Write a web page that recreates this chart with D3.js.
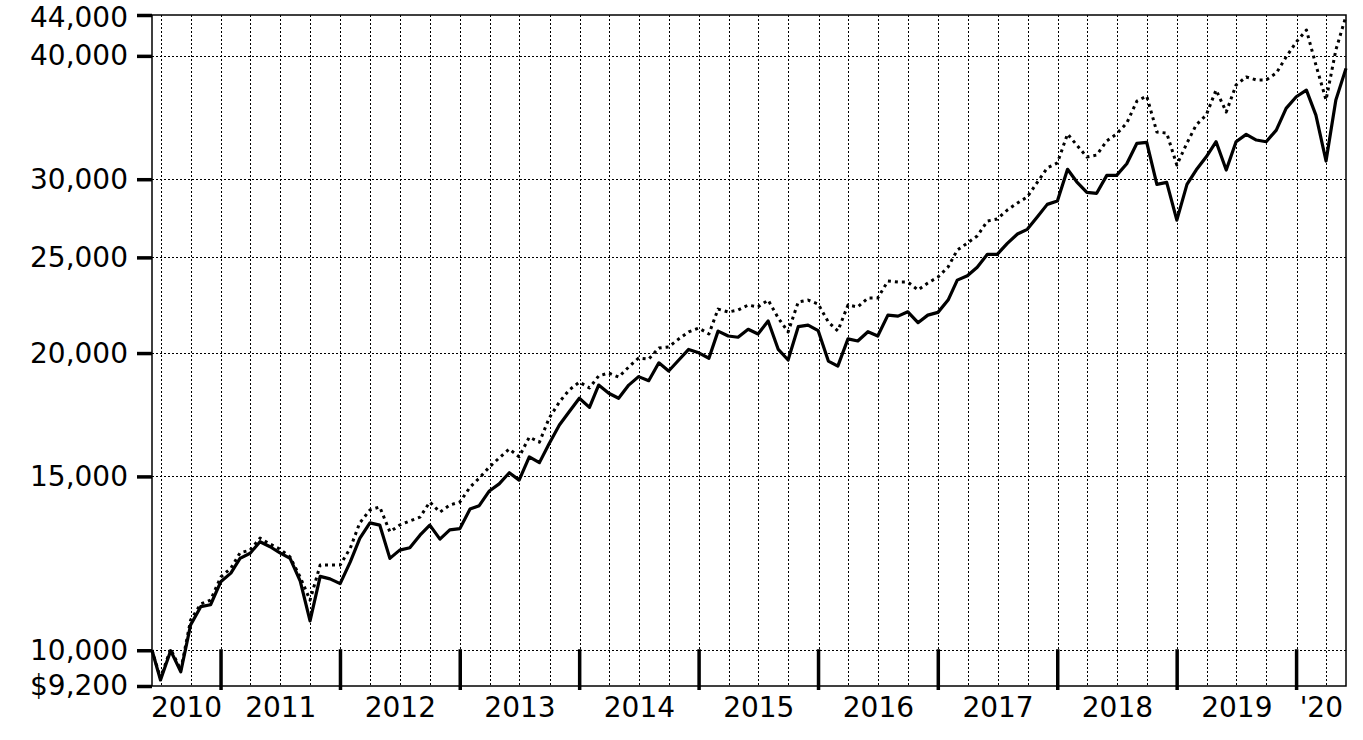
<!DOCTYPE html>
<html>
<head>
<meta charset="utf-8">
<script src="https://cdn.jsdelivr.net/npm/d3@7/dist/d3.min.js"></script>
<style>
  html, body { margin: 0; padding: 0; background: #fff; }
  svg { display: block; }
  text { font-family: "DejaVu Sans", Verdana, sans-serif; fill: #000; }
</style>
</head>
<body>
<svg id="chart" width="1363" height="740"></svg>
<script>
// ---- Data ----
const months = [
  "2010-06-04",
  "2010-06","2010-07","2010-08","2010-09","2010-10","2010-11","2010-12",
  "2011-01","2011-02","2011-03","2011-04","2011-05","2011-06","2011-07","2011-08","2011-09","2011-10","2011-11","2011-12",
  "2012-01","2012-02","2012-03","2012-04","2012-05","2012-06","2012-07","2012-08","2012-09","2012-10","2012-11","2012-12",
  "2013-01","2013-02","2013-03","2013-04","2013-05","2013-06","2013-07","2013-08","2013-09","2013-10","2013-11","2013-12",
  "2014-01","2014-02","2014-03","2014-04","2014-05","2014-06","2014-07","2014-08","2014-09","2014-10","2014-11","2014-12",
  "2015-01","2015-02","2015-03","2015-04","2015-05","2015-06","2015-07","2015-08","2015-09","2015-10","2015-11","2015-12",
  "2016-01","2016-02","2016-03","2016-04","2016-05","2016-06","2016-07","2016-08","2016-09","2016-10","2016-11","2016-12",
  "2017-01","2017-02","2017-03","2017-04","2017-05","2017-06","2017-07","2017-08","2017-09","2017-10","2017-11","2017-12",
  "2018-01","2018-02","2018-03","2018-04","2018-05","2018-06","2018-07","2018-08","2018-09","2018-10","2018-11","2018-12",
  "2019-01","2019-02","2019-03","2019-04","2019-05","2019-06","2019-07","2019-08","2019-09","2019-10","2019-11","2019-12",
  "2020-01","2020-02","2020-03","2020-04","2020-05"
];

// Fund (solid line)
const fundValues = [
  10000, 9330, 9990, 9510, 10610, 11070, 11120, 11730, 11970, 12390,
  12540, 12880, 12730, 12550, 12390, 11750, 10710, 11880, 11810, 11680,
  12290, 12980, 13460, 13390, 12390, 12630, 12700, 13080, 13390, 12960,
  13240, 13280, 13900, 14010, 14500, 14740, 15130, 14870, 15700, 15490,
  16200, 16910, 17440, 18000, 17620, 18560, 18210, 18000, 18560, 18930,
  18750, 19550, 19180, 19680, 20170, 20010, 19760, 21050, 20810, 20750,
  21140, 20910, 21550, 20170, 19680, 21270, 21350, 21070, 19630, 19400,
  20670, 20570, 21020, 20810, 21850, 21800, 22020, 21470, 21850, 21990,
  22630, 23710, 23950, 24430, 25180, 25180, 25830, 26400, 26690, 27480,
  28290, 28510, 30700, 29820, 29090, 29030, 30270, 30270, 31100, 32620,
  32690, 29640, 29780, 27270, 29640, 30650, 31610, 32740, 30650, 32740,
  33310, 32870, 32740, 33640, 35390, 36360, 36930, 34840, 31300, 36080,
  38850
];

// Benchmark (dotted line)
const benchValues = [
  10000, 9370, 10030, 9550, 10730, 11140, 11240, 11860, 12110, 12550,
  12630, 12990, 12810, 12660, 12430, 11860, 11240, 12200, 12200, 12200,
  12690, 13460, 13870, 13970, 13180, 13390, 13520, 13640, 14130, 13800,
  14030, 14130, 14630, 14940, 15330, 15660, 15990, 15700, 16440, 16250,
  17190, 17840, 18350, 18690, 18440, 18960, 19090, 18910, 19360, 19770,
  19720, 20240, 20290, 20670, 21010, 21200, 20910, 22160, 22010, 22110,
  22370, 22270, 22630, 21700, 21010, 22530, 22630, 22420, 21500, 21060,
  22370, 22270, 22740, 22740, 23660, 23600, 23600, 23170, 23550, 23880,
  24450, 25430, 25850, 26280, 27210, 27340, 27920, 28380, 28780, 29800,
  30800, 31160, 33340, 32490, 31600, 31740, 32800, 33340, 34200, 36000,
  36420, 33490, 33410, 31010, 32640, 34040, 34850, 36940, 35090, 37370,
  38080, 37810, 37810, 38430, 39890, 41310, 42490, 39160, 36090, 40550,
  43900
];

const yTickValues = [44000, 40000, 30000, 25000, 20000, 15000, 10000, 9200];
const yTickLabels = ["44,000", "40,000", "30,000", "25,000", "20,000", "15,000", "10,000", "$9,200"];
const yGridValues = [40000, 30000, 25000, 20000, 15000, 10000];
const yearTickYears = [2011, 2012, 2013, 2014, 2015, 2016, 2017, 2018, 2019, 2020];
const yearLabelYears = [2010, 2011, 2012, 2013, 2014, 2015, 2016, 2017, 2018, 2019, 2020];
const yearLabels = ["2010", "2011", "2012", "2013", "2014", "2015", "2016", "2017", "2018", "2019", "'20"];
const domainStart = "2010-06-04";
const domainEnd = "2020-05-31";

// ---- Helpers ----
const parseDay = d3.timeParse("%Y-%m-%d");
const parseMonth = d3.timeParse("%Y-%m");
function toDate(s) {
  if (s.length === 10) return parseDay(s);
  const m = parseMonth(s);
  return d3.timeDay.offset(d3.timeMonth.offset(m, 1), -1); // month end
}
const dates = months.map(toDate);

// ---- Layout ----
const L = 152, R = 1346, T = 15, B = 686;
const svg = d3.select("#chart");

const x = d3.scaleTime()
  .domain([parseDay(domainStart), parseDay(domainEnd)])
  .range([L, R]);
const y = d3.scaleLog()
  .domain([9200, 44000])
  .range([B, T]);

// vertical quarterly grid
const quarters = d3.timeMonth.every(3).range(x.domain()[0], x.domain()[1])
  .filter(d => d.getMonth() % 3 === 0);
svg.append("g").selectAll("line").data(quarters).join("line")
  .attr("x1", d => Math.round(x(d)) + 0.5).attr("x2", d => Math.round(x(d)) + 0.5)
  .attr("y1", T).attr("y2", B)
  .attr("stroke", "#000").attr("stroke-width", 1)
  .attr("stroke-dasharray", "2,2");

// horizontal grid
svg.append("g").selectAll("line").data(yGridValues).join("line")
  .attr("x1", L).attr("x2", R)
  .attr("y1", d => Math.round(y(d)) + 0.5).attr("y2", d => Math.round(y(d)) + 0.5)
  .attr("stroke", "#000").attr("stroke-width", 1)
  .attr("stroke-dasharray", "2,2");

// frame
svg.append("rect")
  .attr("x", L).attr("y", T).attr("width", R - L).attr("height", B - T)
  .attr("fill", "none").attr("stroke", "#000").attr("stroke-width", 1.5);

// y axis ticks and labels
const yAxis = d3.axisLeft(y)
  .tickValues(yTickValues)
  .tickSize(15)
  .tickPadding(9)
  .tickFormat((d, i) => yTickLabels[i]);
const gy = svg.append("g").attr("transform", `translate(${L},0)`).call(yAxis);
gy.select(".domain").remove();
gy.selectAll(".tick line").attr("stroke", "#000").attr("stroke-width", 3.5);
gy.selectAll(".tick text")
  .style("font-family", '"DejaVu Sans", Verdana, sans-serif')
  .style("font-size", "28px").attr("fill", "#000")
  .attr("dy", d => d === 44000 ? "0.42em" : "0.32em");

// year ticks
const yearDates = yearTickYears.map(yr => new Date(yr, 0, 1));
svg.append("g").selectAll("line").data(yearDates).join("line")
  .attr("x1", d => x(d)).attr("x2", d => x(d))
  .attr("y1", y(10000) - 1).attr("y2", B + 4)
  .attr("stroke", "#000").attr("stroke-width", 3.5);

// year labels centred in each year segment
const d0 = x.domain()[0], d1 = x.domain()[1];
svg.append("g").selectAll("text").data(yearLabelYears).join("text")
  .attr("x", yr => {
    const a = new Date(Math.max(+d0, +new Date(yr, 0, 1)));
    const b = new Date(Math.min(+d1, +new Date(yr + 1, 0, 1)));
    return (x(a) + x(b)) / 2;
  })
  .attr("y", 717)
  .attr("text-anchor", "middle")
  .style("font-size", "28px")
  .text((yr, i) => yearLabels[i]);

// lines
const line = d3.line()
  .x((d, i) => x(dates[i]))
  .y(d => y(d));

svg.append("path").datum(benchValues)
  .attr("d", line)
  .attr("fill", "none").attr("stroke", "#000")
  .attr("stroke-width", 3)
  .attr("stroke-dasharray", "3,4")
  .attr("stroke-linejoin", "round");

svg.append("path").datum(fundValues)
  .attr("d", line)
  .attr("fill", "none").attr("stroke", "#000")
  .attr("stroke-width", 3.2)
  .attr("stroke-linejoin", "round");
</script>
</body>
</html>
